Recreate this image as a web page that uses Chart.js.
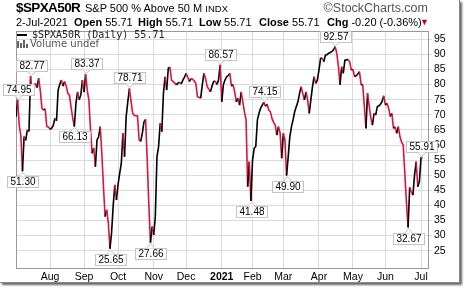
<!DOCTYPE html>
<html><head><meta charset="utf-8">
<script src="https://cdn.jsdelivr.net/npm/chart.js@4.4.0/dist/chart.umd.min.js"></script>
<style>
html,body{margin:0;padding:0;background:#fff;}
#wrap{position:relative;width:464px;height:288px;overflow:hidden;font-family:"Liberation Sans",Arial,sans-serif;background:#fff;}
#frame{position:absolute;left:0;top:0;width:459px;height:282px;border-right:1px solid #888;border-bottom:1px solid #888;box-shadow:2px 2px 2px #666;}
canvas{position:absolute;left:0;top:0;}
.t{position:absolute;white-space:nowrap;color:#000;line-height:1;}
</style></head><body>
<div id="wrap">
<div id="frame"></div>
<canvas id="c" width="464" height="288"></canvas>
<div class="t" style="left:16px;top:1px;font-size:13.5px;font-weight:bold;letter-spacing:-0.6px;">$SPXA50R</div>
<div class="t" style="left:85px;top:3px;font-size:11px;">S&amp;P 500 % Above 50 M <span style="font-size:9.5px">INDX</span></div>
<div class="t" style="right:36px;top:2px;font-size:12.5px;color:#555;">©StockCharts.com</div>
<div class="t" style="left:16px;top:17px;font-size:11px;">2-Jul-2021</div>
<div class="t" style="left:74px;top:17px;font-size:11px;"><b>Open</b> 55.71</div>
<div class="t" style="left:138px;top:17px;font-size:11px;"><b>High</b> 55.71</div>
<div class="t" style="left:199px;top:17px;font-size:11px;"><b>Low</b> 55.71</div>
<div class="t" style="left:259px;top:17px;font-size:11px;"><b>Close</b> 55.71</div>
<div class="t" style="left:327px;top:17px;font-size:11px;"><b>Chg</b> -0.20 (-0.36%)</div>
<div class="t" style="left:420px;top:18px;font-size:9px;color:#c0002a;">▼</div>
<div style="position:absolute;left:17px;top:34px;width:10px;height:2px;background:#000;"></div>
<div class="t" style="left:32px;top:30px;font-size:10px;font-family:'DejaVu Sans Mono',monospace;color:#222;">$SPXA50R (Daily) 55.71</div>
<div style="position:absolute;left:17px;top:41px;width:2px;height:7px;background:#666;"></div>
<div style="position:absolute;left:20px;top:43px;width:2px;height:5px;background:#666;"></div>
<div style="position:absolute;left:23px;top:40px;width:2px;height:8px;background:#666;"></div>
<div style="position:absolute;left:26px;top:44px;width:2px;height:4px;background:#666;"></div>
<div class="t" style="left:30px;top:39px;font-size:10px;font-family:'DejaVu Sans',sans-serif;color:#555;">Volume undef</div>
</div>
<script>
// Trading-day series: day 1 = 2-Jul-2020 ... day 252 = 2-Jul-2021
const values = [
 69.3, 74.95, 66.5, 63, 51.3, 62.8, 61.5, 65, 64.5, 82.77,
 76.6, 79, 80.4, 79, 82.1, 78, 72.2, 71.5, 72, 66.1,
 66, 65.2, 65.6, 66.5, 68.8, 68, 78.2, 80, 81.5, 79.5,
 81, 79.5, 77.1, 76.5, 72.5, 69, 66.13, 73.8, 77.6, 75,
 76.5, 81.5, 77.5, 83.37, 78, 74.9, 65, 57.3, 59, 52.8,
 61.7, 62.7, 66.1, 57, 46, 36.3, 38.5, 34.1, 25.65, 31,
 40, 46.8, 41.8, 47, 50.6, 53.9, 63.9, 56.1, 69.4, 74.3,
 78.71, 74.5, 70.5, 69.8, 69.7, 69.6, 61.7, 61.2, 64, 67.7,
 68.5, 55, 40, 27.66, 33, 30.2, 36.3, 56.1, 59.4, 67.2,
 64.4, 77.1, 82.6, 78.2, 85.4, 85.8, 81.5, 81, 80.5, 79.9,
 80.5, 80.8, 80.2, 81.5, 82.5, 83.7, 82.5, 81, 82, 81.8,
 81.2, 80.4, 76, 75.8, 75.5, 80, 83.7, 82, 79.3, 78.5,
 77.6, 79.5, 81, 81.2, 80, 81.5, 86.57, 74.3, 80, 81.5,
 82.6, 83, 83.7, 79.5, 80, 77.5, 74.3, 75.5, 73.2, 77.6,
 74.3, 71, 68.3, 46.2, 54.5, 41.48, 55, 58.9, 59.5, 68.3,
 70.5, 72.2, 73.2, 74.15, 72.8, 73.5, 71.6, 71, 68.8, 67.5,
 66.6, 63.3, 66.1, 64, 55.6, 63.9, 61.7, 49.9, 56, 62.7,
 66, 68.3, 71, 72.7, 74.3, 77, 79.3, 77.1, 74.9, 77.6,
 75, 70.5, 75, 79.3, 82.6, 80.4, 81.5, 84.8, 88.7, 88.8,
 87.6, 89.8, 89.9, 90.4, 90.6, 91, 91.5, 92.57, 90.4, 86,
 79.9, 85.9, 83.7, 88.1, 88.2, 88.3, 87.5, 84.8, 85, 82.6,
 83, 83.5, 84.3, 79.9, 80, 73, 65.5, 77.1, 73, 69,
 66.6, 70.5, 69.9, 72.7, 73, 73.5, 74.5, 76.3, 73.2, 73.8,
 72.2, 69.5, 70.5, 65.5, 66, 63.9, 66.1, 62.7, 61, 60,
 50.6, 41, 32.67, 46, 44.5, 43.4, 50, 54.5, 46.2, 48,
 55.91, 55.71
];
const monthStartDays = [22, 43, 64, 86, 106, 128, 147, 166, 188, 209, 229, 251];
const monthLabels = ['Aug','Sep','Oct','Nov','Dec','2021','Feb','Mar','Apr','May','Jun','Jul'];
const yTickValues = [25,30,35,40,45,50,55,60,65,70,75,80,85,90,95];
const calloutDays = [2, 5, 10, 37, 44, 59, 71, 84, 127, 146, 154, 168, 198, 243, 251];

const UP = '#000000', DOWN = '#dc143c';
const points = values.map((v, i) => ({x: i + 1, y: v}));

const frameBorder = {
  id: 'frameBorder',
  beforeDatasetsDraw(chart) {
    const a = chart.chartArea, c = chart.ctx;
    c.save(); c.strokeStyle = '#999'; c.lineWidth = 1;
    c.strokeRect(Math.round(a.left) + 0.5, Math.round(a.top) + 0.5, Math.round(a.right - a.left), Math.round(a.bottom - a.top));
    c.restore();
  }
};

const callouts = {
  id: 'callouts',
  afterDatasetsDraw(chart) {
    const c = chart.ctx, xs = chart.scales.x, ys = chart.scales.y;
    c.save();
    c.font = '10px "Liberation Sans", Arial, sans-serif';
    c.textAlign = 'center'; c.textBaseline = 'middle';
    calloutDays.forEach(d => {
      const v = values[d - 1];
      const prev = d > 1 ? values[d - 2] : -Infinity;
      const next = d < values.length ? values[d] : -Infinity;
      const above = v >= prev && v >= next;
      const px = Math.round(xs.getPixelForValue(d)) + 0.5;
      const py = ys.getPixelForValue(v);
      const txt = v.toFixed(2);
      const w = Math.ceil(c.measureText(txt).width) + 5;
      const h = 11, gap = 5;
      const by = Math.round(above ? py - gap - h : py + gap);
      const bx = Math.round(px - w / 2);
      c.fillStyle = '#fff'; c.fillRect(bx, by, w, h);
      c.strokeStyle = '#c4c4c4'; c.lineWidth = 1;
      c.strokeRect(bx + 0.5, by + 0.5, w, h);
      const edge = above ? by + h + 0.5 : by + 0.5;
      c.beginPath();
      c.moveTo(px - 4, edge); c.lineTo(px, above ? py - 1 : py + 1); c.lineTo(px + 4, edge);
      c.fillStyle = '#fff'; c.fill(); c.stroke();
      c.fillStyle = '#000';
      c.fillText(txt, bx + w / 2 + 0.5, by + h / 2 + 1);
    });
    c.restore();
  }
};

new Chart(document.getElementById('c'), {
  type: 'line',
  data: {
    datasets: [{
      data: points,
      borderWidth: 1.6,
      pointRadius: 0,
      tension: 0,
      borderColor: UP,
      segment: { borderColor: ctx => ctx.p1.parsed.y < ctx.p0.parsed.y ? DOWN : UP }
    }]
  },
  options: {
    responsive: false,
    devicePixelRatio: 1,
    animation: false,
    layout: { padding: { left: 16, top: 31, right: 4, bottom: 4 } },
    plugins: { legend: { display: false }, tooltip: { enabled: false } },
    scales: {
      x: {
        type: 'linear', min: 1, max: 255.3,
        afterBuildTicks: s => { s.ticks = monthStartDays.map(v => ({value: v})); },
        afterFit: s => { s.height = 16; },
        ticks: {
          autoSkip: false, maxRotation: 0, padding: 3, color: '#000',
          callback: v => monthLabels[monthStartDays.indexOf(v)],
          font: ctx => ({ family: '"Liberation Sans", Arial, sans-serif', size: 10.5,
                          weight: (ctx.tick && ctx.tick.label === '2021') ? 'bold' : 'normal' })
        },
        grid: { color: '#dadada', drawTicks: false },
        border: { display: false }
      },
      y: {
        position: 'right', min: 19.27, max: 97.75,
        afterBuildTicks: s => { s.ticks = yTickValues.map(v => ({value: v})); },
        afterFit: s => { s.width = 32; },
        ticks: { padding: 2, color: '#000', font: { family: '"Liberation Sans", Arial, sans-serif', size: 10.5 } },
        grid: { color: '#dadada', drawTicks: true, tickLength: 4 },
        border: { display: false }
      }
    }
  },
  plugins: [frameBorder, callouts]
});
</script>
</body></html>
